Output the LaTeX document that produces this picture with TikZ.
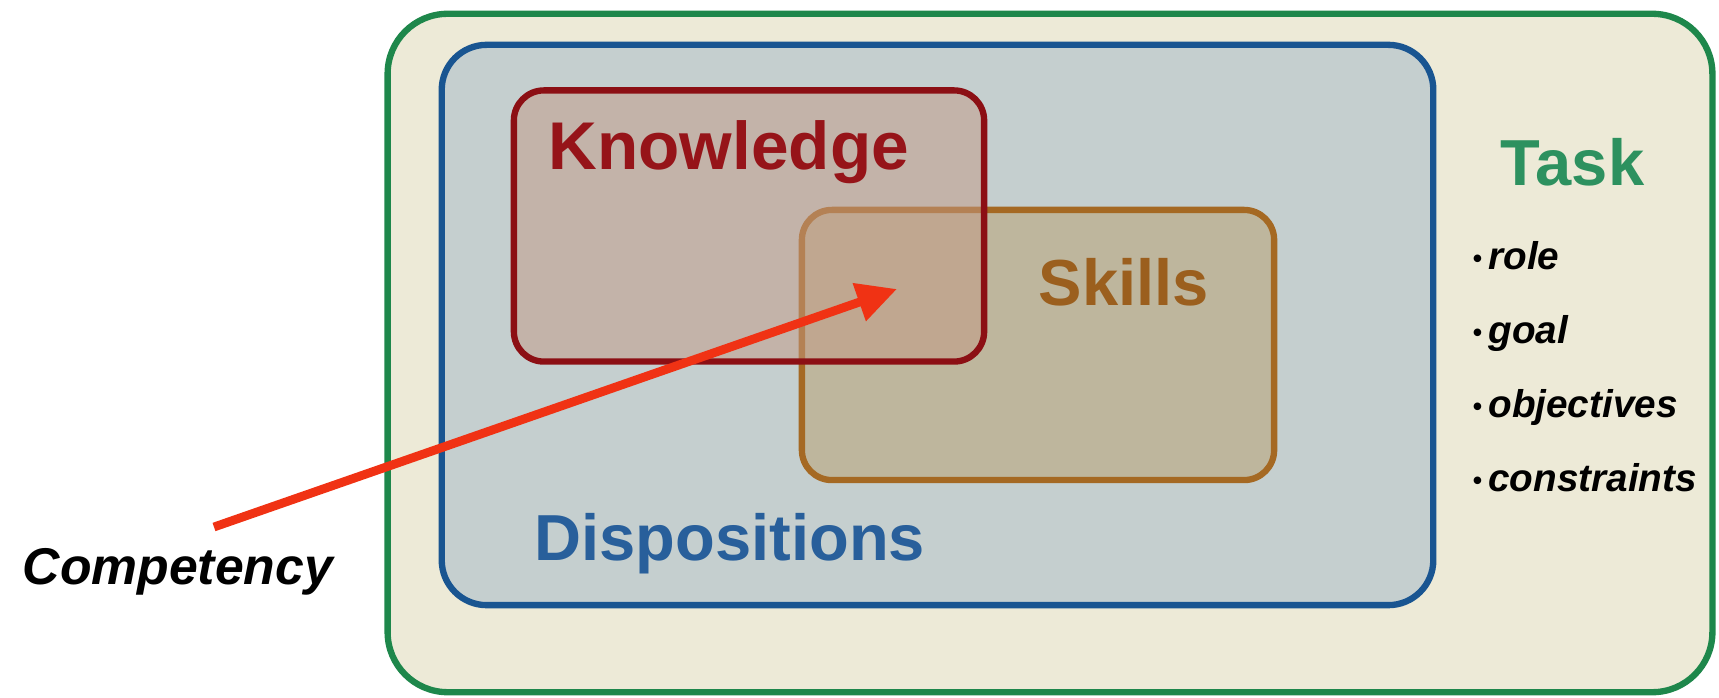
\documentclass[tikz,border=0pt]{standalone}
\usepackage{fontspec}
\setmainfont{Liberation Sans}
\usetikzlibrary{arrows.meta}

\definecolor{taskgreen}{RGB}{30,135,75}
\definecolor{tasktext}{RGB}{45,145,95}
\definecolor{taskfill}{RGB}{237,234,215}
\definecolor{dispblue}{RGB}{25,85,145}
\definecolor{disptext}{RGB}{40,95,155}
\definecolor{dispfill}{RGB}{197,207,207}
\definecolor{knowred}{RGB}{140,15,20}
\definecolor{knowtext}{RGB}{150,20,25}
\definecolor{knowfill}{RGB}{195,153,133}
\definecolor{skillbrown}{RGB}{165,105,35}
\definecolor{skilltext}{RGB}{155,95,30}
\definecolor{skillfill}{RGB}{185,159,109}
\definecolor{arrowred}{RGB}{240,50,20}

\tikzstyle{outer} = [rectangle, rounded corners=0.6cm, minimum width=13.24cm, minimum height=6.78cm, draw=taskgreen, fill=taskfill, line width=1.8pt]
\tikzstyle{disp} = [rectangle, rounded corners=0.45cm, minimum width=9.91cm, minimum height=5.6cm, draw=dispblue, fill=dispfill, line width=1.8pt]
\tikzstyle{know} = [rectangle, rounded corners=0.3cm, minimum width=4.7cm, minimum height=2.71cm, draw=knowred, fill=knowfill, fill opacity=0.5, line width=1.8pt]
\tikzstyle{skill} = [rectangle, rounded corners=0.3cm, minimum width=4.72cm, minimum height=2.7cm, draw=skillbrown, fill=skillfill, fill opacity=0.5, line width=1.8pt]
\tikzstyle{big} = [font=\fontsize{18.5}{22}\selectfont\bfseries, anchor=base west, inner sep=0pt]
\tikzstyle{item} = [font=\fontsize{11}{13}\selectfont\bfseries\itshape, anchor=base west, inner sep=0pt]

\newcommand{\dotitem}{\raisebox{0.6pt}{\fontsize{7.5}{7.5}\selectfont\textbullet}\,}

\begin{document}
\begin{tikzpicture}[x=0.01cm, y=-0.01cm]
\useasboundingbox (0,0) rectangle (1719,698);

    % nested boxes
    \node[outer] (T) at (1050,353) {};
    \node[disp] (D) at (937.5,325) {};
    \node[skill] (S) at (1038,345) {};
    \node[know] (K) at (749,226) {};

    % labels
    \node[big, text=knowtext, font=\fontsize{19.2}{22}\selectfont\bfseries] (KL) at (548,170) {Knowledge};
    \node[big, text=skilltext] (SL) at (1038,306) {Skills};
    \node[big, text=disptext] (DL) at (534,561) {Dispositions};
    \node[big, text=tasktext] (TL) at (1500,186) {Task};

    \node[item] (T1) at (1472,270) {\dotitem role};
    \node[item] (T2) at (1472,344) {\dotitem goal};
    \node[item] (T3) at (1472,418) {\dotitem objectives};
    \node[item] (T4) at (1472,492) {\dotitem constraints};

    \node[font=\fontsize{14.7}{17}\selectfont\bfseries\itshape, anchor=base west, inner sep=0pt] (C) at (22,585) {Competency};

    % competency arrow
    \coordinate (tail) at (214,527);
    \coordinate (tip) at (897,289);
    \draw[-{Triangle[length=0.4cm,width=0.38cm]}, draw=arrowred, fill=arrowred, line width=2.5pt] (tail) -- (tip);

\end{tikzpicture}
\end{document}
